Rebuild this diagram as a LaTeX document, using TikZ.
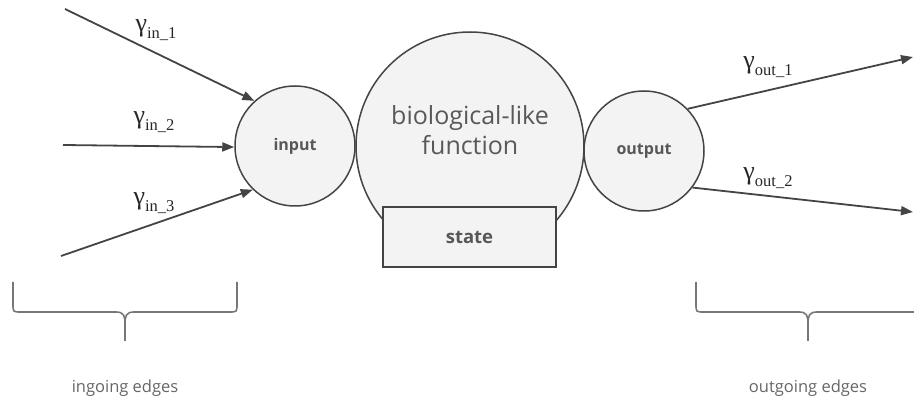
\documentclass[tikz,border=0pt]{standalone}
\usepackage{fontspec}
\setmainfont{Open Sans}
\newfontfamily\gfont{Liberation Serif}
\usetikzlibrary{arrows.meta}
\definecolor{lnc}{HTML}{444444}
\definecolor{fillc}{HTML}{F3F3F3}
\definecolor{txtc}{HTML}{595959}
\definecolor{brc}{HTML}{777777}
\definecolor{capc}{HTML}{666666}
\tikzset{
  circ/.style={circle, draw=lnc, fill=fillc, line width=1.5pt, inner sep=0pt},
  edge/.style={draw=lnc, line width=1.8pt, -{Triangle[length=12pt,width=9pt]}},
  glabel/.style={inner sep=0pt, text=black!85},
  bracestyle/.style={draw=brc, line width=1.6pt},
  caption/.style={text=capc, font=\fontsize{16.5}{20}\selectfont}
}
\newcommand{\glab}[1]{{\gfont\fontsize{26}{26}\selectfont γ}\raisebox{-7pt}{\gfont\fontsize{16.5}{16.5}\selectfont #1}}
\begin{document}
\begin{tikzpicture}[x=1pt,y=-1pt]
\clip (0,0) rectangle (914,403);
% big circle and state
\node[circ, minimum size=228pt] (func) at (470,146) {};
\node[align=center, text=txtc, font=\fontsize{25}{30}\selectfont] (functext) at (470,130) {biological-like\\function};
\node[draw=lnc, fill=fillc, line width=1.5pt, minimum width=173pt, minimum height=60pt, inner sep=0pt,
  text=lnc!90, font=\bfseries\fontsize{18.5}{18.5}\selectfont] (state) at (469.5,237) {state};
% input / output
\node[circ, minimum size=120pt, text=lnc!90, font=\bfseries\fontsize{16}{16}\selectfont] (input) at (295,146) {input};
\node[circ, minimum size=120pt, text=lnc!90, font=\bfseries\fontsize{16}{16}\selectfont] (output) at (644,151) {output};
% incoming
\coordinate (s1) at (65,9);
\coordinate (s2) at (63,145);
\coordinate (s3) at (61,256);
\draw[edge] (s1) -- (input.132);
\draw[edge] (s2) -- (input.181);
\draw[edge] (s3) -- (input.226);
% outgoing
\coordinate (e1) at (913,57);
\coordinate (e2) at (913,212);
\draw[edge] (output.44) -- (e1);
\draw[edge] (output.-37) -- (e2);
% labels
\node[glabel] (g1) at (156,30) {\glab{in\_1}};
\node[glabel] (g2) at (154,122) {\glab{in\_2}};
\node[glabel] (g3) at (154,203) {\glab{in\_3}};
\node[glabel] (g4) at (768,67) {\glab{out\_1}};
\node[glabel] (g5) at (768,178) {\glab{out\_2}};
% braces
\draw[bracestyle] (13,282) -- (13,304) .. controls (13,312) .. (21,312) -- (116,312)
  .. controls (124,312) and (125,316) .. (125,324) -- (125,341);
\draw[bracestyle] (237,282) -- (237,304) .. controls (237,312) .. (229,312) -- (134,312)
  .. controls (126,312) and (125,316) .. (125,324);
\draw[bracestyle] (696,282) -- (696,304) .. controls (696,312) .. (704,312) -- (799,312)
  .. controls (807,312) and (808,316) .. (808,324) -- (808,341);
\draw[bracestyle] (920,282) -- (920,304) .. controls (920,312) .. (912,312) -- (817,312)
  .. controls (809,312) and (808,316) .. (808,324);
\node[caption] (cin) at (125,388) {ingoing edges};
\node[caption] (cout) at (808,388) {outgoing edges};
\end{tikzpicture}
\end{document}
